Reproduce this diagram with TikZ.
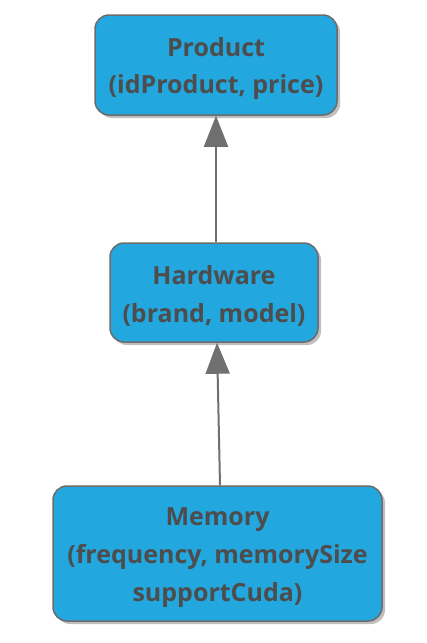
\documentclass[tikz,border=0pt]{standalone}
\usepackage{fontspec}
\setmainfont{Open Sans}
\usetikzlibrary{arrows.meta,shadows}
\definecolor{boxblue}{HTML}{22A7DF}
\definecolor{boxline}{HTML}{6B6B6B}
\definecolor{textgray}{HTML}{4D4D4D}
\definecolor{arrowgray}{HTML}{707070}
\newcommand{\headstrut}{\rule{0pt}{26pt}}
\begin{document}
\begin{tikzpicture}[
  x=1pt, y=-1pt,
  entity/.style={rectangle, rounded corners=14pt, draw=boxline, line width=1.5pt,
                 fill=boxblue, text=textgray, align=center,
                 font=\fontsize{25}{38}\selectfont\bfseries,
                 drop shadow={shadow xshift=3pt, shadow yshift=-3pt, opacity=0.25, fill=black}},
  isa/.style={draw=arrowgray, line width=2pt, -{Triangle[length=31pt,width=24pt]}}
]
\useasboundingbox (0,0) rectangle (426,643);
\node[entity, minimum width=242pt, minimum height=100pt] (product) at (216,65)
  {\headstrut Product\\(idProduct, price)};
\node[entity, minimum width=208pt, minimum height=99pt] (hardware) at (214,292.5)
  {\headstrut Hardware\\(brand, model)};
\node[entity, minimum width=329pt, minimum height=135pt] (memory) at (217.5,553.5)
  {\headstrut Memory\\(frequency, memorySize\\supportCuda)};
\draw[isa] ([xshift=2pt]hardware.north) -- (product.south);
\draw[isa] ([xshift=2.5pt]memory.north) -- ([xshift=3pt]hardware.south);
\end{tikzpicture}
\end{document}
